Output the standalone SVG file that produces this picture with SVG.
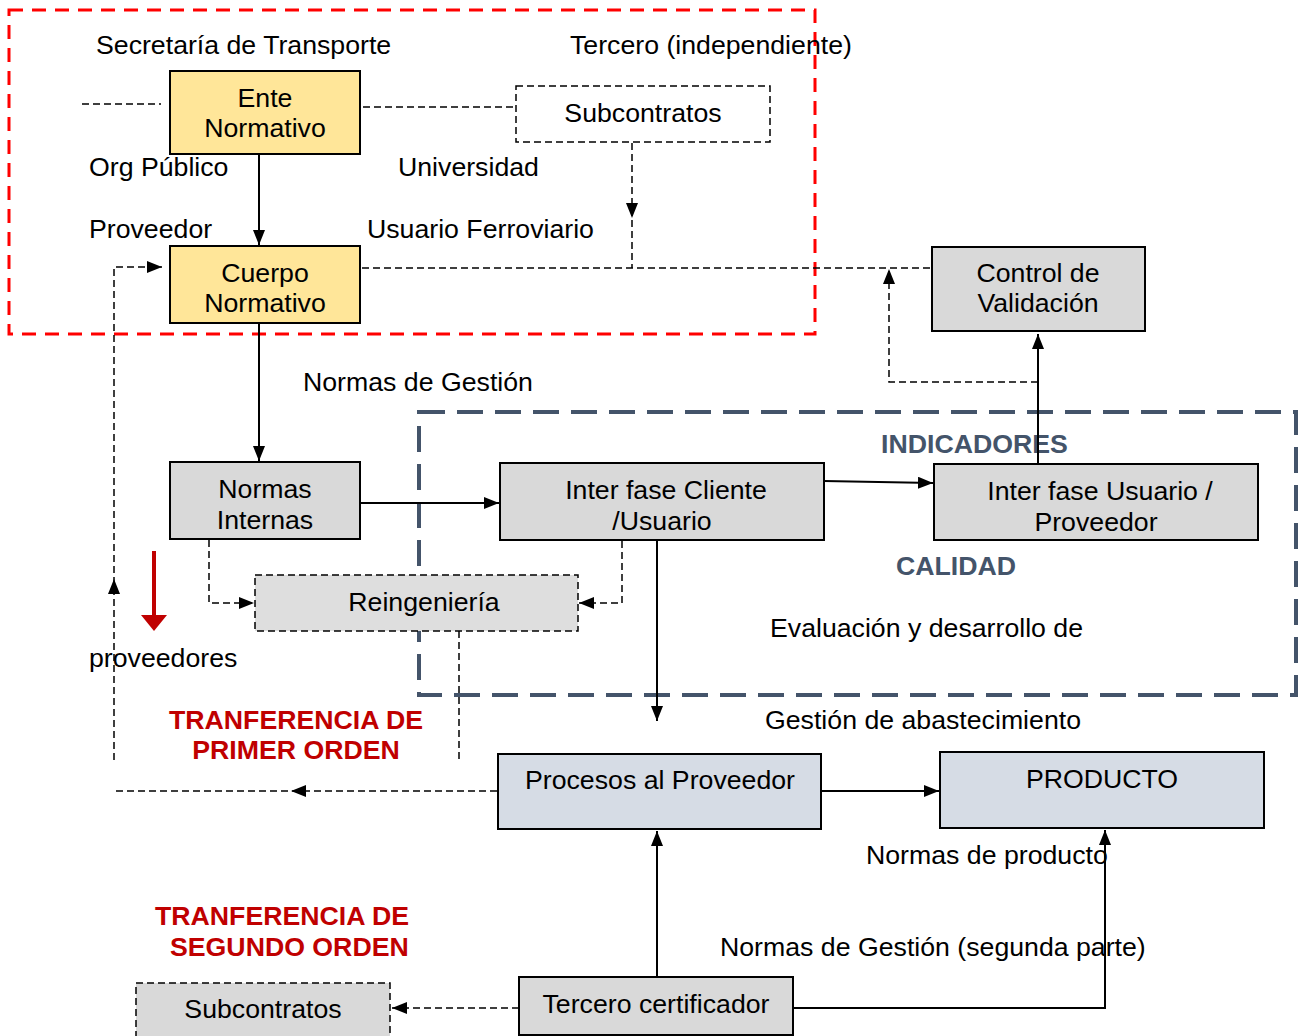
<svg xmlns="http://www.w3.org/2000/svg" width="1299" height="1036" viewBox="0 0 1299 1036">
<style>
text{font-family:"Liberation Sans",Arial,sans-serif;font-size:26.7px;fill:#000}
.c{text-anchor:middle}
.b{font-weight:bold}
.red{fill:#C00000}
.slate{fill:#44546A}
.box{stroke:#000;stroke-width:2}
.yel{fill:#FFE699}
.gry{fill:#D9D9D9}
.blu{fill:#D6DCE5}
.dbox{stroke:#000;stroke-width:1.5;stroke-dasharray:7 4}
.ln{fill:none;stroke:#000;stroke-width:2}
.dl{fill:none;stroke:#000;stroke-width:1.5;stroke-dasharray:7 4}
</style>
<defs>
<marker id="ah" viewBox="0 0 15 12" refX="15" refY="6" markerWidth="15" markerHeight="12" markerUnits="userSpaceOnUse" orient="auto"><path d="M0,0 L15,6 L0,12 z" fill="#000"/></marker>
</defs>
<rect width="1299" height="1036" fill="#fff"/>

<g id="regions">
<rect x="9" y="10" width="806" height="324" fill="none" stroke="#FF0000" stroke-width="3" stroke-dasharray="14 9"/>
<rect x="419" y="412" width="877" height="283" fill="none" stroke="#44546A" stroke-width="4" stroke-dasharray="26 12"/>
</g>

<g id="labels">
<text x="96" y="54">Secretaría de Transporte</text>
<text x="570" y="54">Tercero (independiente)</text>
<text x="89" y="176">Org Público</text>
<text x="398" y="176">Universidad</text>
<text x="89" y="238">Proveedor</text>
<text x="367" y="238">Usuario Ferroviario</text>
<text x="303" y="391">Normas de Gestión</text>
<text x="881" y="453" class="b slate">INDICADORES</text>
<text x="896" y="575" class="b slate">CALIDAD</text>
<text x="770" y="637">Evaluación y desarrollo de</text>
<text x="89" y="667">proveedores</text>
<text x="296" y="729" class="c b red">TRANFERENCIA DE</text>
<text x="296" y="759" class="c b red">PRIMER ORDEN</text>
<text x="765" y="729">Gestión de abastecimiento</text>
<text x="866" y="864">Normas de producto</text>
<text x="155" y="925" class="b red">TRANFERENCIA DE</text>
<text x="170" y="956" class="b red">SEGUNDO ORDEN</text>
<text x="720" y="956">Normas de Gestión (segunda parte)</text>
</g>

<g id="connectors">
<line x1="82" y1="104" x2="161" y2="104" class="dl"/>
<line x1="363" y1="107" x2="515" y2="107" class="dl"/>
<line x1="259" y1="154" x2="259" y2="245" class="ln" marker-end="url(#ah)"/>
<line x1="632" y1="143" x2="632" y2="268" class="dl"/>
<polygon points="626,203 638,203 632,218" fill="#000"/>
<line x1="362" y1="268" x2="931" y2="268" class="dl"/>
<path d="M1038,382 L889,382 L889,269" class="dl" marker-end="url(#ah)"/>
<line x1="1038" y1="463" x2="1038" y2="334" class="ln" marker-end="url(#ah)"/>
<line x1="259" y1="323" x2="259" y2="461" class="ln" marker-end="url(#ah)"/>
<line x1="360" y1="503" x2="499" y2="503" class="ln" marker-end="url(#ah)"/>
<line x1="824" y1="481" x2="933" y2="483" class="ln" marker-end="url(#ah)"/>
<path d="M209,540 L209,603 L254,603" class="dl" marker-end="url(#ah)"/>
<path d="M622,541 L622,603 L579,603" class="dl" marker-end="url(#ah)"/>
<path d="M114,760 L114,267 L162,267" class="dl" marker-end="url(#ah)"/>
<polygon points="108,594 120,594 114,579" fill="#000"/>
<line x1="459" y1="631" x2="459" y2="760" class="dl"/>
<line x1="154" y1="551" x2="154" y2="616" stroke="#C00000" stroke-width="4"/>
<polygon points="141,615 167,615 154,631" fill="#C00000"/>
<line x1="657" y1="541" x2="657" y2="721" class="ln" marker-end="url(#ah)"/>
<line x1="821" y1="791" x2="939" y2="791" class="ln" marker-end="url(#ah)"/>
<line x1="497" y1="791" x2="114" y2="791" class="dl"/>
<polygon points="306,785 306,797 291,791" fill="#000"/>
<line x1="657" y1="977" x2="657" y2="831" class="ln" marker-end="url(#ah)"/>
<path d="M793,1008 L1105,1008 L1105,830" class="ln" marker-end="url(#ah)"/>
<line x1="519" y1="1008" x2="392" y2="1008" class="dl" marker-end="url(#ah)"/>
</g>

<g id="ente-normativo">
<rect x="170" y="71" width="190" height="83" class="box yel"/>
<text x="265" y="107" class="c">Ente</text>
<text x="265" y="137" class="c">Normativo</text>
</g>
<g id="subcontratos-top">
<rect x="516" y="86" width="254" height="56" fill="#fff" class="dbox"/>
<text x="643" y="122" class="c">Subcontratos</text>
</g>
<g id="cuerpo-normativo">
<rect x="170" y="246" width="190" height="77" class="box yel"/>
<text x="265" y="282" class="c">Cuerpo</text>
<text x="265" y="312" class="c">Normativo</text>
</g>
<g id="control-validacion">
<rect x="932" y="247" width="213" height="84" class="box gry"/>
<text x="1038" y="282" class="c">Control de</text>
<text x="1038" y="312" class="c">Validación</text>
</g>
<g id="normas-internas">
<rect x="170" y="462" width="190" height="77" class="box gry"/>
<text x="265" y="498" class="c">Normas</text>
<text x="265" y="529" class="c">Internas</text>
</g>
<g id="interfase-cliente">
<rect x="500" y="463" width="324" height="77" class="box gry"/>
<text x="666" y="499" class="c">Inter fase Cliente</text>
<text x="662" y="530" class="c">/Usuario</text>
</g>
<g id="interfase-usuario">
<rect x="934" y="464" width="324" height="76" class="box gry"/>
<text x="1100" y="500" class="c">Inter fase Usuario /</text>
<text x="1096" y="531" class="c">Proveedor</text>
</g>
<g id="reingenieria">
<rect x="255" y="575" width="323" height="56" fill="#DEDEDE" class="dbox"/>
<text x="424" y="611" class="c">Reingeniería</text>
</g>
<g id="procesos-proveedor">
<rect x="498" y="754" width="323" height="75" class="box blu"/>
<text x="660" y="789" class="c">Procesos al Proveedor</text>
</g>
<g id="producto">
<rect x="940" y="752" width="324" height="76" class="box blu"/>
<text x="1102" y="788" class="c">PRODUCTO</text>
</g>
<g id="tercero-certificador">
<rect x="519" y="977" width="274" height="58" class="box gry"/>
<text x="656" y="1013" class="c">Tercero certificador</text>
</g>
<g id="subcontratos-bottom">
<rect x="136" y="983" width="254" height="54" class="dbox gry"/>
<text x="263" y="1018" class="c">Subcontratos</text>
</g>
</svg>
